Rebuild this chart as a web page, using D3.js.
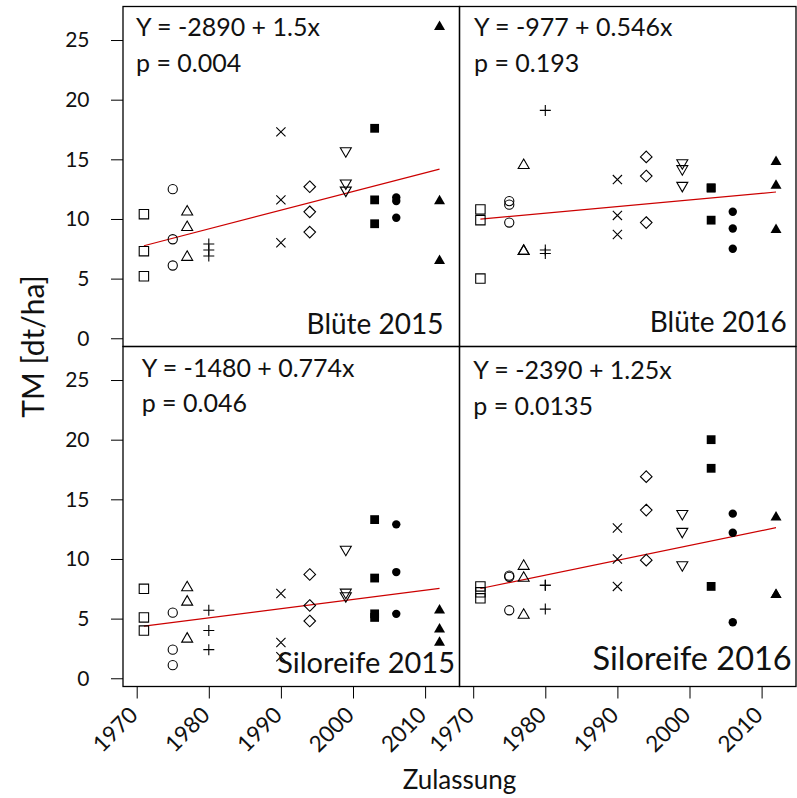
<!DOCTYPE html>
<html>
<head>
<meta charset="utf-8">
<title>TM nach Zulassungsjahr</title>
<script src="https://cdn.jsdelivr.net/npm/d3@7"></script>
<style>
  body { margin: 0; background: #fff; }
  svg text { font-family: Lato, "Open Sans", sans-serif; fill: #111; }
</style>
</head>
<body>
<svg id="chart" width="797" height="798"></svg>
<script>
  // Zulassungsjahr je Sorte
  years = [1971, 1975, 1977, 1980, 1990, 1994, 1999, 2003, 2006, 2012];
  // Symbol je Sorte (wie R pch 0-6, 15-17)
  symbols = ["square", "circle", "triangle", "plus", "cross", "diamond", "triangleDown",
             "squareFilled", "circleFilled", "triangleFilled"];

  // TM [dt/ha] je Sorte, Wiederholungen
  blute2015 = [[10.4, 7.3, 5.2], [12.5, 8.3, 6.1], [10.6, 9.3, 6.8], [7.9, 7.4, 6.9], [17.3, 11.6, 8.0],
               [12.7, 10.6, 8.9], [15.7, 13.0, 12.4], [17.6, 11.6, 9.6], [11.8, 11.5, 10.1], [26.1, 11.5, 6.5]];
  blute2016 = [[10.8, 9.9, 5.0], [11.5, 11.2, 9.7], [14.5, 7.3, 7.3], [19.1, 7.4, 7.1], [13.3, 10.3, 8.7],
               [15.2, 13.6, 9.7], [14.7, 14.2, 12.8], [12.6, 12.6, 9.9], [10.6, 9.2, 7.5], [14.8, 12.8, 9.1]];
  siloreife2015 = [[7.5, 5.1, 4.0], [5.5, 2.4, 1.1], [7.6, 6.4, 3.3], [5.7, 4.0, 2.4], [7.1, 3.0, 1.8],
                   [8.7, 6.1, 4.8], [10.8, 7.2, 6.9], [13.3, 8.4, 5.4, 5.1], [12.9, 8.9, 5.4], [5.7, 4.1, 3.0]];
  siloreife2016 = [[7.7, 7.2, 6.7], [8.6, 8.5, 5.7], [9.4, 8.4, 5.3], [7.8, 7.8, 5.8], [12.6, 10.0, 7.7],
                   [16.9, 14.1, 9.9], [13.8, 12.3, 9.5], [20.0, 17.6, 7.7], [13.8, 12.2, 4.7], [13.5, 7.0, 7.0]];

  panelNames = ["Blüte 2015", "Blüte 2016", "Siloreife 2015", "Siloreife 2016"];
  equations = ["Y = -2890 + 1.5x", "Y = -977 + 0.546x", "Y = -1480 + 0.774x", "Y = -2390 + 1.25x"];
  pValues = ["p = 0.004", "p = 0.193", "p = 0.046", "p = 0.0135"];
  yTicks = [0, 5, 10, 15, 20, 25];
  xTicks = [1970, 1980, 1990, 2000, 2010];

  panelData = [blute2015, blute2016, siloreife2015, siloreife2016];

  // layout
  svg = d3.select("#chart");
  plotLeft = 123;
  plotTop = 6.5;
  panelW = 336.5;
  panelH = 340;

  x = d3.scaleLinear().domain([1968.1, 2014.77]).range([0, panelW]);
  y = d3.scaleLinear().domain([-0.69, 27.81]).range([panelH, 0]);

  // text placement per panel (offsets from panel corners)
  eqOffset = [[13, 29.5], [14.5, 29.5], [18.7, 30.2], [13.8, 32.8]];
  labelOffset = [[-16, -12.5], [-9.3, -14.8], [-4.5, -13.5], [-4.3, -16.5]];
  labelSize = [28, 28, 29, 32.5];

  function symbolPath(type) {
    var s;
    switch (type) {
      case "square": s = 4.7; return "M" + -s + "," + -s + "h" + 2 * s + "v" + 2 * s + "h" + -2 * s + "Z";
      case "squareFilled": s = 4.4; return "M" + -s + "," + -s + "h" + 2 * s + "v" + 2 * s + "h" + -2 * s + "Z";
      case "circle": return d3.arc()({innerRadius: 0, outerRadius: 4.6, startAngle: 0, endAngle: 2 * Math.PI});
      case "circleFilled": return d3.arc()({innerRadius: 0, outerRadius: 4.2, startAngle: 0, endAngle: 2 * Math.PI});
      case "triangle":
      case "triangleFilled": return "M0,-6.3L5.5,3.2L-5.5,3.2Z";
      case "triangleDown": return "M0,6.3L5.5,-3.2L-5.5,-3.2Z";
      case "diamond": return "M0,-5.8L5.8,0L0,5.8L-5.8,0Z";
      case "plus": return "M-5.5,0H5.5M0,-5.5V5.5";
      case "cross": return "M-4.6,-4.6L4.6,4.6M-4.6,4.6L4.6,-4.6";
    }
  }

  panelData.forEach(function(groups, i) {
    var col = i % 2, row = Math.floor(i / 2);
    var g = svg.append("g")
      .attr("transform", "translate(" + (plotLeft + col * panelW) + "," + (plotTop + row * panelH) + ")");

    var points = [];
    groups.forEach(function(vals, j) {
      vals.forEach(function(v) {
        points.push({year: years[j], value: v, symbol: symbols[j]});
      });
    });

    // least squares line
    var mx = d3.mean(points, function(d) { return d.year; });
    var my = d3.mean(points, function(d) { return d.value; });
    var sxy = d3.sum(points, function(d) { return (d.year - mx) * (d.value - my); });
    var sxx = d3.sum(points, function(d) { return (d.year - mx) * (d.year - mx); });
    var slope = sxy / sxx;
    var fit = d3.extent(years).map(function(yr) { return {year: yr, value: my + slope * (yr - mx)}; });

    g.append("path")
      .datum(fit)
      .attr("fill", "none")
      .attr("stroke", "#cc0000")
      .attr("stroke-width", 1.2)
      .attr("d", d3.line()
        .x(function(d) { return x(d.year); })
        .y(function(d) { return y(d.value); }));

    g.selectAll(".pt")
      .data(points)
    .enter().append("path")
      .attr("class", "pt")
      .attr("transform", function(d) { return "translate(" + x(d.year) + "," + y(d.value) + ")"; })
      .attr("d", function(d) { return symbolPath(d.symbol); })
      .attr("fill", function(d) { return /Filled/.test(d.symbol) ? "#000" : "none"; })
      .attr("stroke", function(d) { return /Filled/.test(d.symbol) ? "none" : "#000"; })
      .attr("stroke-width", 1.1);

    g.append("text")
      .attr("x", eqOffset[i][0])
      .attr("y", eqOffset[i][1])
      .style("font-size", "25px")
      .text(equations[i]);
    g.append("text")
      .attr("x", eqOffset[i][0])
      .attr("y", eqOffset[i][1] + 35.7)
      .style("font-size", "25px")
      .text(pValues[i]);

    g.append("text")
      .attr("x", panelW + labelOffset[i][0])
      .attr("y", panelH + labelOffset[i][1])
      .attr("text-anchor", "end")
      .style("font-size", labelSize[i] + "px")
      .text(panelNames[i]);

    g.append("rect")
      .attr("width", panelW)
      .attr("height", panelH)
      .attr("fill", "none")
      .attr("stroke", "#000")
      .attr("stroke-width", 1.3);

    if (col == 0) {
      g.append("g")
        .call(d3.axisLeft(y).tickValues(yTicks).tickSize(12).tickPadding(21.5))
        .call(function(a) {
          a.select(".domain").remove();
          a.selectAll("text").style("font-size", "21px").style("font-family", "Lato, sans-serif").attr("fill", "#111");
        });
    }
    if (row == 1) {
      g.append("g")
        .attr("transform", "translate(0," + panelH + ")")
        .call(d3.axisBottom(x).tickValues(xTicks).tickSize(12).tickFormat(d3.format("d")))
        .call(function(a) {
          a.select(".domain").remove();
          a.selectAll("text")
            .attr("y", 0)
            .attr("dy", null)
            .attr("text-anchor", "end")
            .attr("transform", "translate(2,30) rotate(-45)")
            .style("font-size", "22.5px")
            .style("font-family", "Lato, sans-serif")
            .attr("fill", "#111");
        });
    }
  });

  svg.append("text")
    .attr("transform", "translate(44," + (plotTop + panelH) + ") rotate(-90)")
    .attr("text-anchor", "middle")
    .style("font-size", "30px")
    .text("TM [dt/ha]");

  svg.append("text")
    .attr("x", plotLeft + panelW)
    .attr("y", 789)
    .attr("text-anchor", "middle")
    .style("font-size", "26px")
    .text("Zulassung");
</script>
</body>
</html>
